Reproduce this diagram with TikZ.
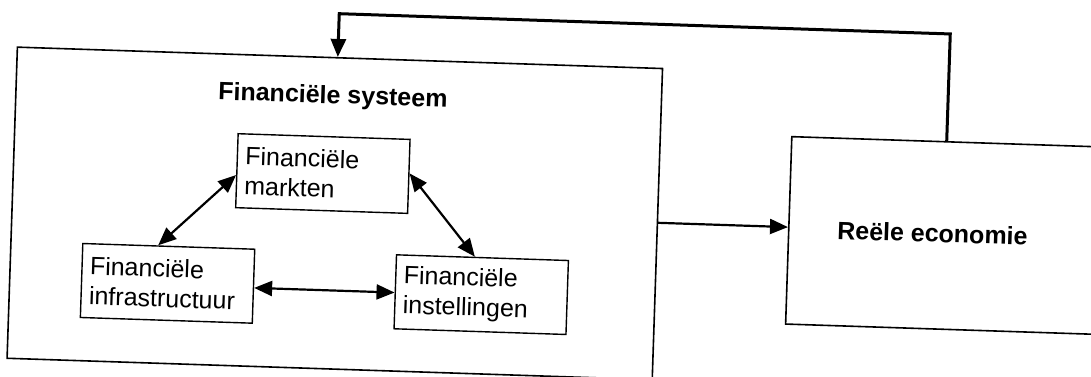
\documentclass[tikz,border=0pt]{standalone}
\usepackage{fontspec}
\setmainfont{Liberation Sans}
\usetikzlibrary{arrows.meta,calc}
\begin{document}
\begin{tikzpicture}[x=0.5pt,y=-0.5pt,
  txt/.style={font=\fontsize{12.5}{15}\selectfont},
  sbox/.style={draw, line width=0.7pt, text width=78pt, inner xsep=4pt, inner ysep=0pt,
    minimum height=37pt, align=left, txt},
  lbox/.style={draw, line width=0.8pt, inner sep=0pt},
  dbl/.style={line width=1.1pt, {Triangle[length=9pt,width=7.5pt]}-{Triangle[length=9pt,width=7.5pt]}},
  sgl/.style={line width=1.1pt, -{Triangle[length=9pt,width=7.5pt]}},
  fb/.style={line width=1.5pt, -{Triangle[length=9pt,width=7.5pt]}}]
\clip (0,0) rectangle (1091,376);
\fill[white] (0,0) rectangle (1091,376);
\begin{scope}[rotate around={-1.9:(545,188)}, transform shape]
  % outer boxes
  \node[lbox, minimum width=322.75pt, minimum height=155.65pt] (fs) at (335.75,220.35) {};
  \node[lbox, minimum width=160pt, minimum height=93.75pt] (re) at (950,222.25) {};
  \node[txt, font=\bfseries\fontsize{12.5}{15}\selectfont] (t) at (330,104.1) {Financiële systeem};
  \node[txt, font=\bfseries\fontsize{12.5}{15}\selectfont] (rt) at (933.8,220.4) {Reële economie};
  % inner boxes
  \node[sbox] (m) at (322.5,180.9) {Financiële\\markten};
  \node[sbox] (i) at (170.9,295.8) {Financiële\\infrastructuur};
  \node[sbox] (s) at (484.8,296.7) {Financiële\\instellingen};
  % inner connectors
  \draw[dbl] ($(m.west)+(0,4.4)$) -- ($(i.north)+(-10.6,0)$);
  \draw[dbl] ($(m.east)+(0,-3)$) -- ($(s.north)+(-7.6,0)$);
  \draw[dbl] ($(i.east)+(0,1.7)$) coordinate (ie) -- (ie -| s.west);
  % system to economy
  \draw[sgl] ($(fs.east)+(0,-1.3)$) coordinate (h) -- (h -| re.west);
  % feedback
  \coordinate (fbr) at (945,20.6);
  \coordinate (fbl) at (333.6,20.6);
  \draw[fb] (re.north -| fbr) -- (fbr) -- (fbl) -- (fbl |- fs.north);
\end{scope}
\end{tikzpicture}
\end{document}
